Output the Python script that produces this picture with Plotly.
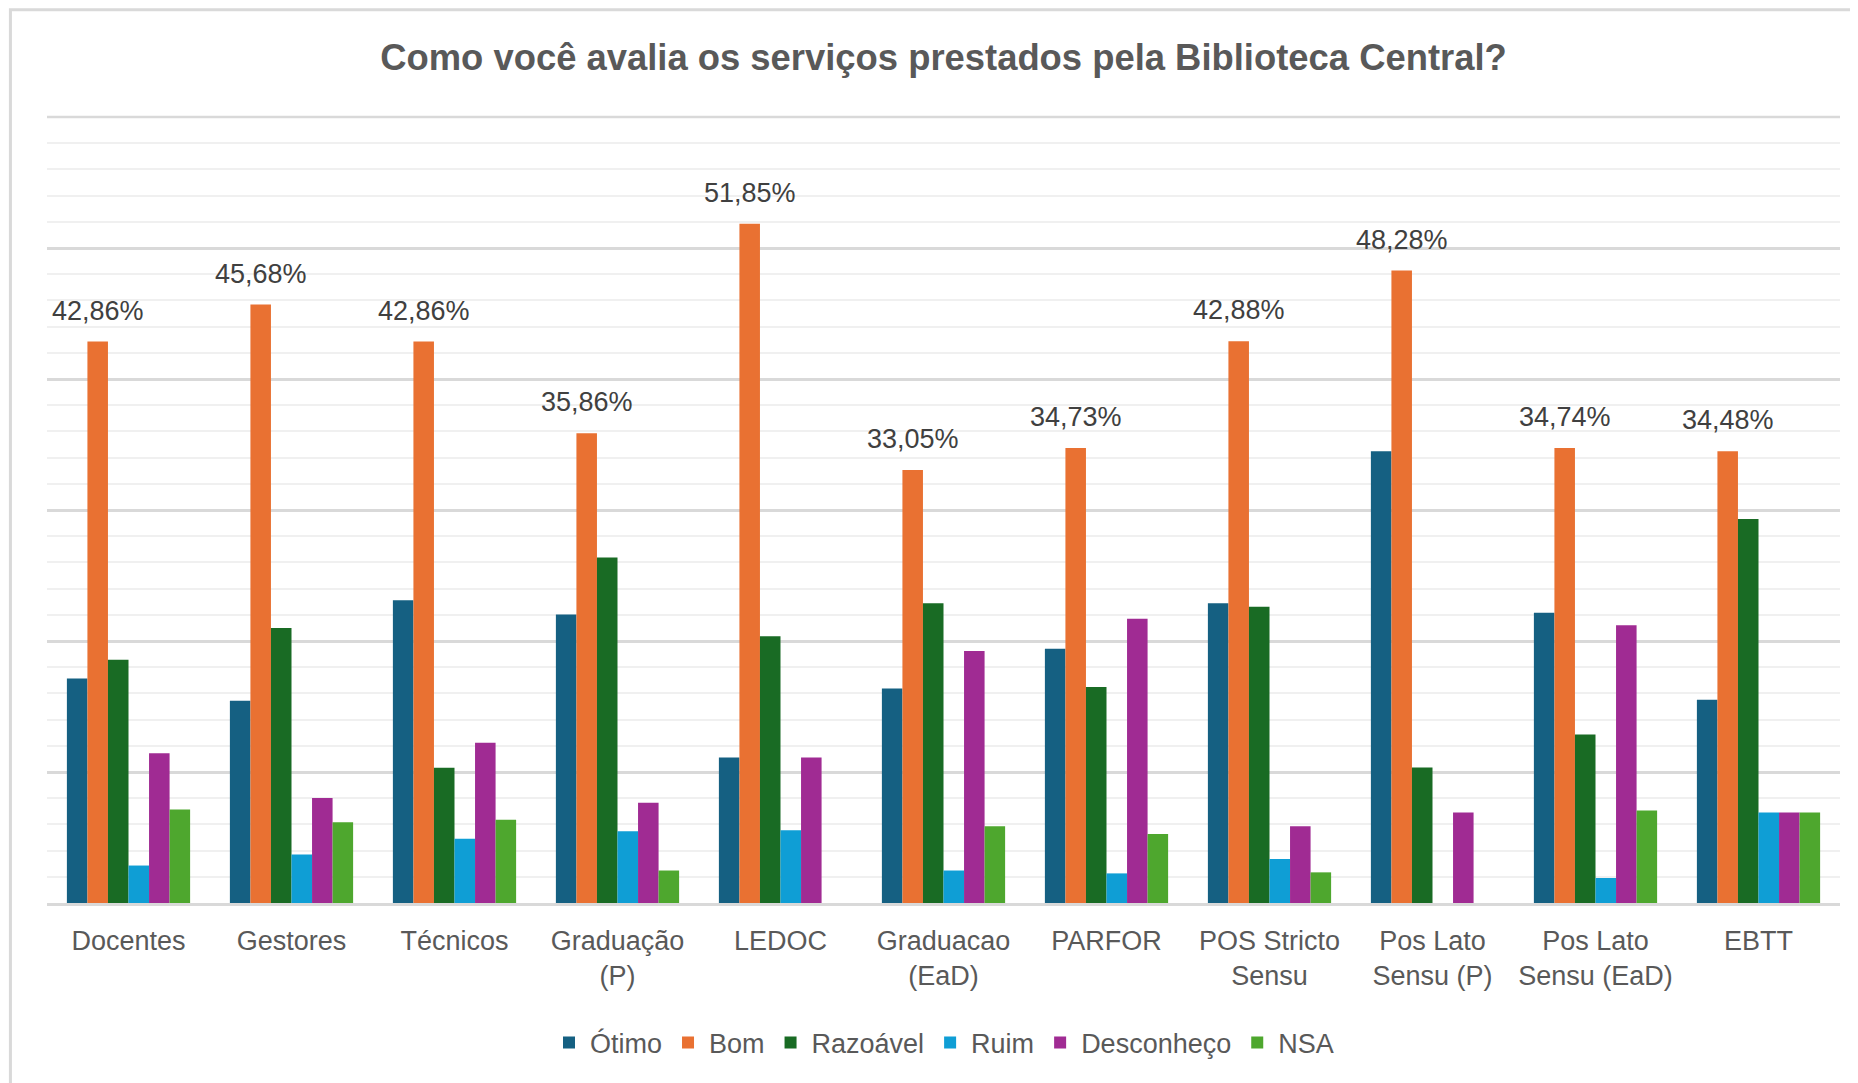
import plotly.graph_objects as go

categories = ["Docentes", "Gestores", "Técnicos", "Graduação<br>(P)", "LEDOC",
              "Graduacao<br>(EaD)", "PARFOR", "POS Stricto<br>Sensu",
              "Pos Lato<br>Sensu (P)", "Pos Lato<br>Sensu (EaD)", "EBTT"]

otimo      = [17.14, 15.43, 23.11, 22.02, 11.11, 16.38, 19.40, 22.89, 34.48, 22.15, 15.52]
bom        = [42.86, 45.68, 42.86, 35.86, 51.85, 33.05, 34.73, 42.88, 48.28, 34.74, 34.48]
razoavel   = [18.57, 20.99, 10.33, 26.38, 20.37, 22.89, 16.49, 22.62, 10.34, 12.86, 29.31]
ruim       = [2.86, 3.70, 4.90, 5.48, 5.56, 2.48, 2.26, 3.35, 0.00, 1.91, 6.90]
desconheco = [11.43, 8.02, 12.23, 7.66, 11.11, 19.24, 21.69, 5.86, 6.90, 21.20, 6.90]
nsa        = [7.14, 6.17, 6.35, 2.48, 0.00, 5.86, 5.26, 2.34, 0.00, 7.06, 6.90]

series_names = ["Ótimo", "Bom", "Razoável", "Ruim", "Desconheço", "NSA"]
series_values = [otimo, bom, razoavel, ruim, desconheco, nsa]
colors = ["#156082", "#E97132", "#196B24", "#0F9ED5", "#A02B93", "#4EA72E"]

Y_MAX = 60

FONT = "Liberation Sans, Arial, sans-serif"
BARGAP = 0.244

fig = go.Figure()
for name, vals, col in zip(series_names, series_values, colors):
    fig.add_trace(go.Bar(x=categories, y=vals, name=name,
                         marker=dict(color=col, line=dict(width=0)),
                         hoverinfo="skip"))

# data labels on "Bom" series
n_series = len(series_names)
bom_idx = series_names.index("Bom")
width = (1 - BARGAP) / n_series
offset = -(1 - BARGAP) / 2 + (bom_idx + 0.5) * width
for i, v in enumerate(bom):
    fig.add_annotation(x=i + offset, y=v, xref="x", yref="y",
                       text=f"{v:.2f}%".replace(".", ","),
                       showarrow=False, yanchor="middle", yshift=31,
                       font=dict(family=FONT, size=27, color="#404040"))

# top major gridline (at the axis maximum, top edge of the plot area)
fig.add_shape(type="line", xref="paper", yref="paper", x0=0, x1=1, y0=1, y1=1,
              line=dict(color="#d9d9d9", width=2.5), layer="below")

# outer border
fig.add_shape(type="rect", xref="paper", yref="paper",
              x0=-0.0204, x1=1.03, y0=-0.26, y1=1.1364,
              line=dict(color="#d9d9d9", width=3), fillcolor="rgba(0,0,0,0)",
              layer="below")

fig.update_layout(
    width=1858, height=1083,
    margin=dict(l=39, r=26, t=109, b=188),
    paper_bgcolor="white", plot_bgcolor="white",
    barmode="group", bargap=BARGAP, bargroupgap=0,
    title=dict(text="<b>Como você avalia os serviços prestados pela Biblioteca Central?</b>",
               x=0.5, xref="paper", xanchor="center",
               y=1 - 49 / 1083, yref="container", yanchor="middle",
               font=dict(family=FONT, size=36.4, color="#595959")),
    font=dict(family=FONT, size=27, color="#595959"),
    showlegend=True,
    legend=dict(orientation="h", x=0.5, xanchor="center", y=-0.178, yanchor="middle",
                font=dict(family=FONT, size=27, color="#595959"),
                traceorder="normal", itemclick=False, itemwidth=32),
    xaxis=dict(showgrid=False, showline=True, linecolor="#d9d9d9", linewidth=2.5,
               ticks="", ticklabelstandoff=12,
               tickfont=dict(family=FONT, size=27, color="#595959"),
               fixedrange=True),
    yaxis=dict(range=[0, Y_MAX], dtick=10, showticklabels=False, ticks="",
               showgrid=True, gridcolor="#d9d9d9", gridwidth=2.5,
               zeroline=False, showline=False,
               minor=dict(dtick=2, showgrid=True, gridcolor="#f0f0f0", gridwidth=2),
               fixedrange=True),
)

fig.write_html("out.html")
